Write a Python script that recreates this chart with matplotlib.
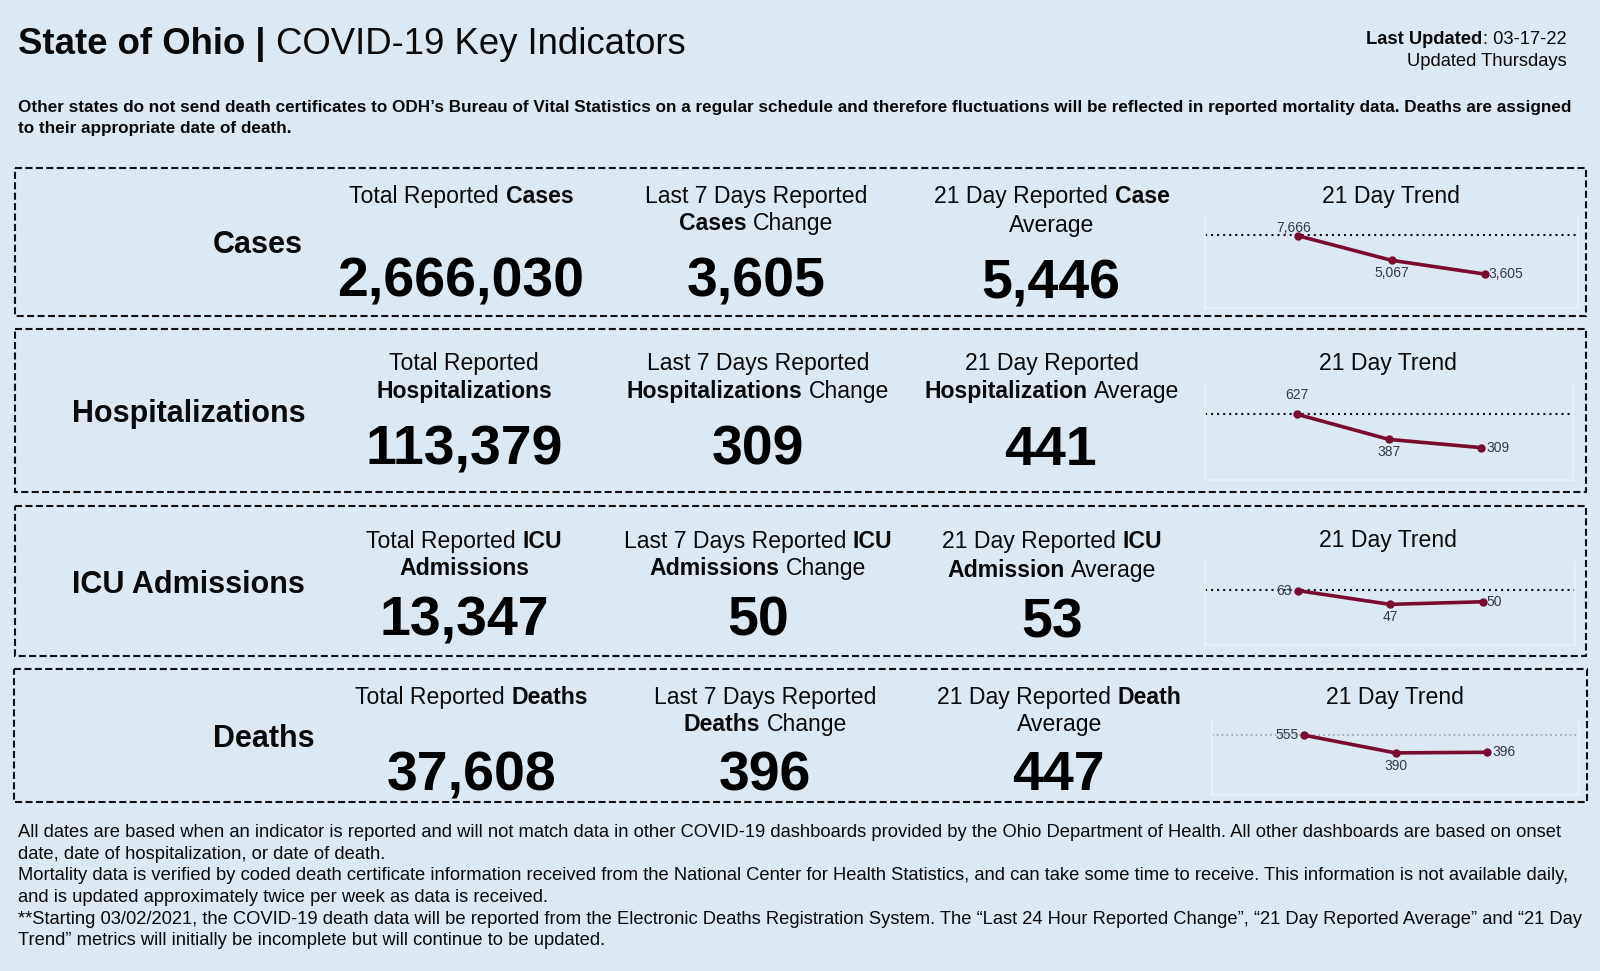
import matplotlib
matplotlib.use("Agg")
import matplotlib.pyplot as plt
from matplotlib.patches import Rectangle

plt.rcParams['font.family'] = ['Liberation Sans', 'DejaVu Sans']

row_names = ['Cases', 'Hospitalizations', 'ICU Admissions', 'Deaths']
total_values = [2666030, 113379, 13347, 37608]
change_values = [3605, 309, 50, 396]
average_values = [5446, 441, 53, 447]

# three points of the 21 day trend + the dotted line
trend_cases = [7666, 5067, 3605]
trend_hosp = [627, 387, 309]
trend_icu = [63, 47, 50]
trend_deaths = [555, 390, 396]
ref_values = [7720, 632, 64, 555]

# header runs, (text, bold), one list per line
total_headers = [
    [[('Total Reported', 0), ('Cases', 1)]],
    [[('Total Reported', 0)], [('Hospitalizations', 1)]],
    [[('Total Reported', 0), ('ICU', 1)], [('Admissions', 1)]],
    [[('Total Reported', 0), ('Deaths', 1)]],
]
change_headers = [
    [[('Last 7 Days Reported', 0)], [('Cases', 1), ('Change', 0)]],
    [[('Last 7 Days Reported', 0)], [('Hospitalizations', 1), ('Change', 0)]],
    [[('Last 7 Days Reported', 0), ('ICU', 1)], [('Admissions', 1), ('Change', 0)]],
    [[('Last 7 Days Reported', 0)], [('Deaths', 1), ('Change', 0)]],
]
average_headers = [
    [[('21 Day Reported', 0), ('Case', 1)], [('Average', 0)]],
    [[('21 Day Reported', 0)], [('Hospitalization', 1), ('Average', 0)]],
    [[('21 Day Reported', 0), ('ICU', 1)], [('Admission', 1), ('Average', 0)]],
    [[('21 Day Reported', 0), ('Death', 1)], [('Average', 0)]],
]

note_lines = [
    "Other states do not send death certificates to ODH\u2019s Bureau of Vital Statistics on a regular schedule and therefore fluctuations will be reflected in reported mortality data. Deaths are assigned",
    "to their appropriate date of death.",
]
foot_lines = [
    "All dates are based when an indicator is reported and will not match data in other COVID-19 dashboards provided by the Ohio Department of Health. All other dashboards are based on onset",
    "date, date of hospitalization, or date of death.",
    "Mortality data is verified by coded death certificate information received from the National Center for Health Statistics, and can take some time to receive. This information is not available daily,",
    "and is updated approximately twice per week as data is received.",
    "**Starting 03/02/2021, the COVID-19 death data will be reported from the Electronic Deaths Registration System. The \u201cLast 24 Hour Reported Change\u201d, \u201c21 Day Reported Average\u201d and \u201c21 Day",
    "Trend\u201d metrics will initially be incomplete but will continue to be updated.",
]

BG = '#DCE8F2'
INK = '#0A0A0A'
WINE = '#7A0C2E'
W, H = 1568, 951.6   # overlay units
PX = 1600 / 1568

fig = plt.figure(figsize=(16, 9.71), dpi=100, facecolor=BG)
ax = fig.add_axes([0, 0, 1, 1])
ax.set_xlim(0, W)
ax.set_ylim(H, 0)
ax.axis('off')
renderer = fig.canvas.get_renderer()


def run_width(s, size, weight):
    t = ax.text(0, 0, s, fontsize=size, fontweight=weight)
    w = t.get_window_extent(renderer).width / PX
    t.remove()
    return w


def runs_line(x, y, runs, size, align='center'):
    # mixed regular/bold on one line, y is the middle of the line
    base = y + size * 0.46
    widths = [run_width(r[0], size, 'bold' if r[1] else 'normal') for r in runs]
    gap = size * 0.39
    total = sum(widths) + gap * (len(runs) - 1)
    if align == 'center':
        cur = x - total / 2
    else:
        cur = x
    for r, w in zip(runs, widths):
        ax.text(cur, base, r[0], fontsize=size, fontweight='bold' if r[1] else 'normal',
                color=INK, va='baseline', ha='left')
        cur += w + gap


# title and top right
runs_line(18, 41, [('State of Ohio |', 1), ('COVID-19 Key Indicators', 0)], 26.3, 'left')
ax.text(1535, 39, ': 03-17-22', fontsize=13.2, color=INK, ha='right', va='center')
upd_w = run_width(': 03-17-22', 13.2, 'normal')
ax.text(1535 - upd_w, 39, 'Last Updated', fontsize=13.2, fontweight='bold', color=INK, ha='right', va='center')
ax.text(1535, 60, 'Updated Thursdays', fontsize=13.2, color=INK, ha='right', va='center')

for s, y in zip(note_lines, [105, 126]):
    ax.text(18, y, s, fontsize=12.32, fontweight='bold', color=INK, va='center')
for s, y in zip(foot_lines, [816, 837, 858, 880, 901, 922]):
    ax.text(18, y, s, fontsize=13.23, color=INK, va='center')

# layout of the four rows, overlay units
boxes = [(15, 165, 1554, 309.5), (15, 322.5, 1554, 482), (15, 496, 1554, 643), (14, 656, 1555, 785.7)]
label_pos = [(253, 240), (185, 406), (185, 573), (259, 724)]
col_x = [(452, 741, 1031), (455, 743, 1031), (455, 743, 1031), (462, 750, 1038)]
num_x = [(451, 741, 1030), (455, 743, 1029), (455, 743, 1031), (462, 750, 1037)]
num_y = [(276.5, 276.5, 278.5), (441.5, 441.5, 441.5), (609.5, 609.5, 611.5), (760.5, 760.5, 760.5)]
head_y = [(191, 218, 220), (355, 382, 382), (529, 556, 558), (682, 709, 709)]
trend_title = [(1363, 192.5), (1360, 356), (1360, 530), (1367, 683.5)]

for i in range(4):
    x0, y0, x1, y1 = boxes[i]
    ax.add_patch(Rectangle((x0, y0), x1 - x0, y1 - y0, fill=False, ec='#111111', lw=1.5,
                           linestyle=(0, (3.4, 1.6))))
    ax.text(label_pos[i][0], label_pos[i][1], row_names[i], fontsize=22, fontweight='bold',
            color=INK, ha='center', va='center')
    for j, (headers, vals) in enumerate([(total_headers, total_values),
                                         (change_headers, change_values),
                                         (average_headers, average_values)]):
        for k, line in enumerate(headers[i]):
            y = head_y[i][0] if k == 0 else head_y[i][j if j > 0 else 1]
            runs_line(col_x[i][j], y, line, 16.6)
        ax.text(num_x[i][j], num_y[i][j], f"{vals[i]:,}", fontsize=40, fontweight='bold',
                color='black', ha='center', va='center')
    ax.text(trend_title[i][0], trend_title[i][1], '21 Day Trend', fontsize=16.6, color=INK,
            ha='center', va='center')

# sparklines, real pixels: left, right, top, bottom
spark_rects = [(1205, 1578, 218, 308), (1205, 1573, 385, 480), (1205, 1575, 562, 645), (1212, 1579, 720, 795)]
y_tops = [9560, 906, 96, 695]
trends = [trend_cases, trend_hosp, trend_icu, trend_deaths]
# label placement per point: ha, dx, dy in pixels
label_place = [
    [('center', -5, 8), ('center', 0, -13), ('left', 4, 0)],
    [('center', 0, 19), ('center', 0, -13), ('left', 5, 0)],
    [('right', -6, 0), ('center', 0, -13), ('left', 4, 0)],
    [('right', -5, 0), ('center', 0, -13), ('left', 5, 0)],
]
dot_style = [('#111111', 1.5), ('#111111', 1.5), ('#111111', 1.5), ('#9AA5AE', 1.2)]

for i in range(4):
    l, r, t, b = spark_rects[i]
    a = fig.add_axes([l / 1600, 1 - b / 971, (r - l) / 1600, (b - t) / 971])
    a.patch.set_alpha(0)
    a.set_xlim(-1, 3)
    a.set_ylim(0, y_tops[i])
    a.set_xticks([])
    a.set_yticks([])
    a.spines['top'].set_visible(False)
    for side in ['left', 'right', 'bottom']:
        a.spines[side].set_color('#EBF2F8')
        a.spines[side].set_linewidth(1.2)
    a.axhline(ref_values[i], color=dot_style[i][0], lw=dot_style[i][1], linestyle=(0, (1, 1.9)), zorder=1)
    xs = [0, 1, 2]
    a.plot(xs, trends[i], color=WINE, lw=2.6, marker='o', ms=5, zorder=3, clip_on=False)
    for x, v, (ha, dx, dy) in zip(xs, trends[i], label_place[i]):
        a.annotate(f"{v:,}", (x, v), xytext=(dx * 0.72, dy * 0.72), textcoords='offset points',
                   fontsize=10, color='#333A40', ha=ha, va='center', zorder=4)

fig.savefig('out.png', dpi=100, facecolor=BG)
